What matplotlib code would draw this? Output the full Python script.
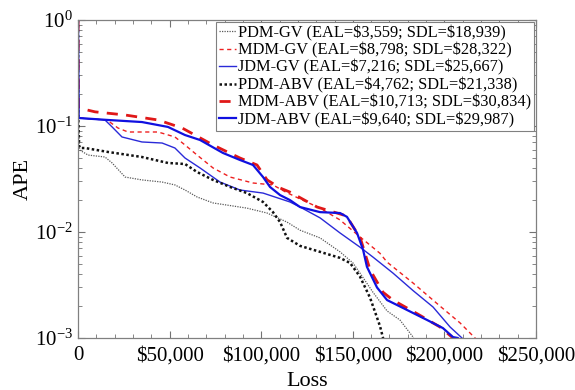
import matplotlib
matplotlib.use("Agg")
import matplotlib.pyplot as plt
from matplotlib.ticker import FixedLocator, FixedFormatter, MultipleLocator, LogLocator, NullFormatter

plt.rcParams['font.family'] = ['Liberation Serif', 'DejaVu Serif']
plt.rcParams['mathtext.fontset'] = 'custom'
plt.rcParams['mathtext.rm'] = 'Liberation Serif'
plt.rcParams['mathtext.it'] = 'Liberation Serif:italic'

# ---- data (loss in $, APE) ----
pdm_gv_x = [0, 150, 800, 1100, 5500, 14700, 18600, 25700, 34900, 45900, 52900, 58400, 65000, 73700, 92200,
            103200, 114100, 121200, 132100, 143000, 150100, 153900, 161000, 168700, 175700, 182900, 183500]
pdm_gv_y = [1.0, 0.12, 0.062, 0.059, 0.0532, 0.051, 0.0448, 0.033, 0.031, 0.0296, 0.0278, 0.0249, 0.0214,
            0.0188, 0.0168, 0.0151, 0.0124, 0.0104, 0.0088, 0.0065, 0.0051, 0.0041, 0.0027, 0.0018, 0.00148,
            0.00102, 0.00095]

mdm_gv_x = [0, 300, 15800, 21800, 27300, 43700, 52900, 58400, 65000, 73700, 83000, 95500, 106400, 113000,
            121200, 132100, 143000, 153900, 164800, 168700, 182900, 197600, 208500, 216700, 218000]
mdm_gv_y = [1.0, 0.119, 0.114, 0.0958, 0.0878, 0.0878, 0.0788, 0.0662, 0.0532, 0.0402, 0.033, 0.029, 0.0278,
            0.024, 0.0205, 0.0168, 0.013, 0.009, 0.0063, 0.0052, 0.0033, 0.002, 0.00139, 0.001, 0.00095]

jdm_gv_x = [0, 300, 14700, 18600, 24000, 34900, 45900, 52900, 58400, 66600, 77500, 88400, 101000, 115700,
            121200, 132100, 143000, 153900, 161000, 171900, 182900, 193800, 203100, 209600, 211000]
jdm_gv_y = [1.0, 0.119, 0.114, 0.098, 0.0788, 0.0707, 0.0691, 0.062, 0.0499, 0.0402, 0.0296, 0.0249, 0.0233,
            0.0192, 0.0172, 0.0136, 0.0098, 0.0072, 0.0058, 0.0041, 0.0028, 0.00196, 0.00127, 0.001, 0.00095]

pdm_abv_x = [0, 150, 600, 1100, 3800, 16400, 34900, 49100, 58400, 65000, 73700, 83000, 92200, 101000, 106400,
             110300, 114100, 121200, 132100, 143000, 148500, 153900, 159400, 164800, 166500, 167000]
pdm_abv_y = [1.0, 0.12, 0.065, 0.062, 0.062, 0.0569, 0.051, 0.0448, 0.0438, 0.0368, 0.031, 0.0266, 0.0233,
             0.0192, 0.0154, 0.0124, 0.0088, 0.0074, 0.0065, 0.0057, 0.0051, 0.0038, 0.0024, 0.0013, 0.001,
             0.00095]

mdm_abv_x = [0, 300, 9300, 25700, 43700, 56800, 73700, 88400, 97700, 103200, 110300, 115700, 130500, 144700,
             146800, 152300, 153900, 159400, 166500, 171900, 185000, 197600, 204100, 205800]
mdm_abv_y = [1.0, 0.148, 0.136, 0.127, 0.114, 0.0958, 0.0662, 0.0499, 0.0429, 0.031, 0.026, 0.0238, 0.0172,
             0.0145, 0.0139, 0.0098, 0.009, 0.0044, 0.0027, 0.00228, 0.0017, 0.00127, 0.00102, 0.00095]

jdm_abv_x = [0, 300, 16400, 34900, 49100, 58400, 66600, 79100, 88400, 95500, 101000, 104800, 110300, 115700,
             121200, 132100, 143000, 146800, 152300, 155600, 157700, 163200, 168700, 177400, 190500, 199200,
             204700, 207400, 208500]
jdm_abv_y = [1.0, 0.119, 0.114, 0.109, 0.098, 0.0822, 0.0738, 0.0557, 0.0478, 0.0429, 0.033, 0.0266, 0.0223,
             0.020, 0.0172, 0.0154, 0.0151, 0.0139, 0.0098, 0.0068, 0.0047, 0.003, 0.00228, 0.00192, 0.00148,
             0.00124, 0.00102, 0.001, 0.00095]

labels = [r"PDM-GV (EAL=\$3,559; SDL=\$18,939)",
          r"MDM-GV (EAL=\$8,798; SDL=\$28,322)",
          r"JDM-GV (EAL=\$7,216; SDL=\$25,667)",
          r"PDM-ABV (EAL=\$4,762; SDL=\$21,338)",
          r"MDM-ABV (EAL=\$10,713; SDL=\$30,834)",
          r"JDM-ABV (EAL=\$9,640; SDL=\$29,987)"]

x_ticks = [0, 50000, 100000, 150000, 200000, 250000]
x_tick_labels = ["0", r"\$50,000", r"\$100,000", r"\$150,000", r"\$200,000", r"\$250,000"]
y_ticks = [1e-3, 1e-2, 1e-1, 1e0]
y_tick_labels = [r"$10^{-3}$", r"$10^{-2}$", r"$10^{-1}$", r"$10^{0}$"]

fig = plt.figure(figsize=(5.75, 3.9), dpi=100)
ax = fig.add_axes([0.1357, 0.1333, 0.7965, 0.8154])

ax.plot(pdm_gv_x, pdm_gv_y, color='0.35', lw=0.9, ls=(0, (1, 1)), label=labels[0])
ax.plot(mdm_gv_x, mdm_gv_y, color='#ee2020', lw=1.0, ls=(0, (3, 2.5)), label=labels[1])
ax.plot(jdm_gv_x, jdm_gv_y, color='#2a2ad8', lw=1.0, ls='-', label=labels[2])
ax.plot(pdm_abv_x, pdm_abv_y, color='#111111', lw=1.8, ls=(0, (1, 1)), label=labels[3])
ax.plot(mdm_abv_x, mdm_abv_y, color='#e01818', lw=2.0, ls=(0, (4, 3)), label=labels[4])
ax.plot(jdm_abv_x, jdm_abv_y, color='#1010e0', lw=1.6, ls='-', label=labels[5])

ax.set_yscale('log')
ax.set_xlim(0, 250000)
ax.set_ylim(1e-3, 1)
ax.xaxis.set_major_locator(FixedLocator(x_ticks))
ax.xaxis.set_major_formatter(FixedFormatter(x_tick_labels))
ax.xaxis.set_minor_locator(MultipleLocator(10000))
ax.yaxis.set_major_locator(FixedLocator(y_ticks))
ax.yaxis.set_major_formatter(FixedFormatter(y_tick_labels))
ax.yaxis.set_minor_locator(LogLocator(base=10, subs=range(2, 10)))
ax.yaxis.set_minor_formatter(NullFormatter())

ax.tick_params(which='both', direction='in', top=True, right=True, color='0.45', labelsize=15)
ax.tick_params(which='major', length=5, width=0.8)
ax.tick_params(which='minor', length=3, width=0.6)
ax.tick_params(axis='x', pad=6)
for s in ax.spines.values():
    s.set_color('0.5')
    s.set_linewidth(0.9)

ax.set_xlabel("Loss", fontsize=16, labelpad=5)
ax.set_ylabel("APE", fontsize=16, labelpad=2)

leg = ax.legend(loc='upper right', fontsize=11.8, frameon=True, fancybox=False, framealpha=1,
                borderpad=0.2, labelspacing=0.08, handlelength=1.05, handletextpad=0.1,
                borderaxespad=0.1, edgecolor='0.5')
leg.get_frame().set_linewidth(0.8)

fig.savefig("out.png", dpi=100)
